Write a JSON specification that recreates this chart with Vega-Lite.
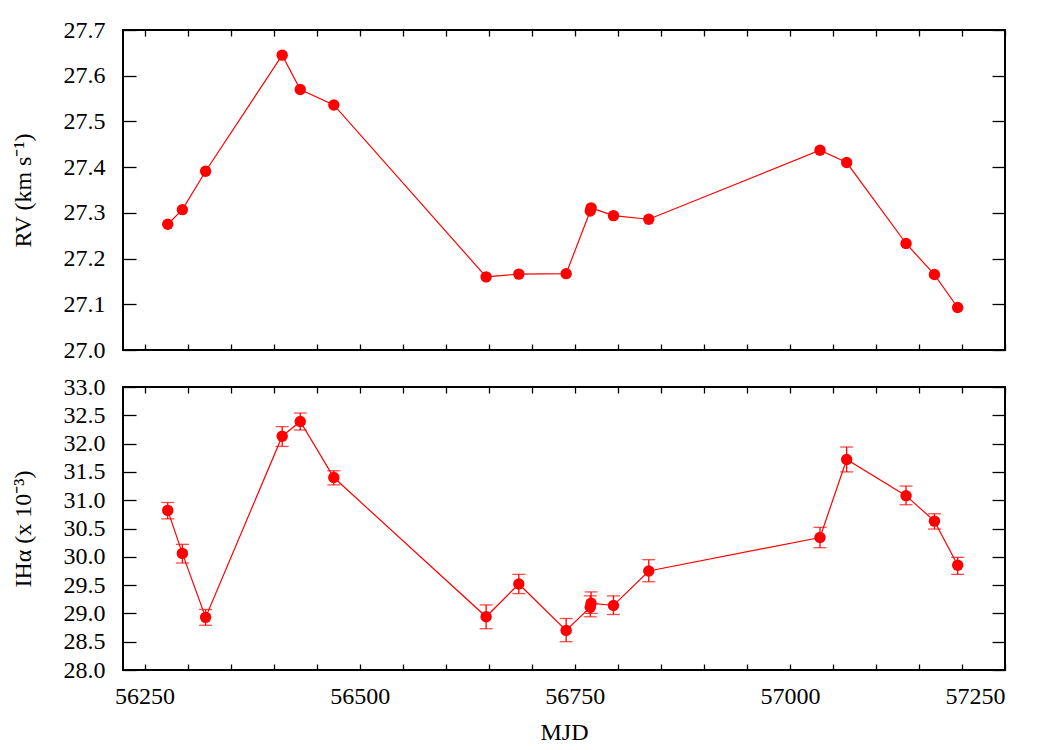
{
  "$schema": "https://vega.github.io/schema/vega-lite/v6.json",
  "padding": {"left": 10, "top": 17, "right": 5, "bottom": 5},
  "background": "white",
  "datasets": {
    "obs": [
      {"mjd": 56277, "rv": 27.275, "iha": 30.82, "lo": 30.67, "hi": 30.96},
      {"mjd": 56294, "rv": 27.307, "iha": 30.06, "lo": 29.89, "hi": 30.22},
      {"mjd": 56321, "rv": 27.391, "iha": 28.93, "lo": 28.79, "hi": 29.07},
      {"mjd": 56410, "rv": 27.645, "iha": 32.13, "lo": 31.95, "hi": 32.30},
      {"mjd": 56431, "rv": 27.570, "iha": 32.39, "lo": 32.24, "hi": 32.54},
      {"mjd": 56470, "rv": 27.536, "iha": 31.40, "lo": 31.27, "hi": 31.52},
      {"mjd": 56647, "rv": 27.160, "iha": 28.94, "lo": 28.73, "hi": 29.15},
      {"mjd": 56685, "rv": 27.166, "iha": 29.52, "lo": 29.35, "hi": 29.69},
      {"mjd": 56740, "rv": 27.167, "iha": 28.70, "lo": 28.50, "hi": 28.91},
      {"mjd": 56768, "rv": 27.304, "iha": 29.11, "lo": 28.94, "hi": 29.31},
      {"mjd": 56769, "rv": 27.311, "iha": 29.18, "lo": 29.00, "hi": 29.38},
      {"mjd": 56795, "rv": 27.294, "iha": 29.14, "lo": 28.98, "hi": 29.31},
      {"mjd": 56836, "rv": 27.286, "iha": 29.75, "lo": 29.56, "hi": 29.95},
      {"mjd": 57035, "rv": 27.437, "iha": 30.34, "lo": 30.16, "hi": 30.52},
      {"mjd": 57066, "rv": 27.410, "iha": 31.72, "lo": 31.50, "hi": 31.94},
      {"mjd": 57135, "rv": 27.233, "iha": 31.08, "lo": 30.92, "hi": 31.25},
      {"mjd": 57168, "rv": 27.165, "iha": 30.63, "lo": 30.49, "hi": 30.76},
      {"mjd": 57195, "rv": 27.093, "iha": 29.85, "lo": 29.69, "hi": 29.99}
    ]
  },
  "config": {
    "view": {"stroke": "black", "strokeWidth": 2},
    "font": "Liberation Serif",
    "axis": {
      "labelFont": "Liberation Serif",
      "titleFont": "Liberation Serif",
      "labelFontSize": 24,
      "titleFontSize": 24,
      "titleFontWeight": "normal",
      "labelColor": "black",
      "titleColor": "black",
      "tickColor": "black",
      "tickWidth": 1.3,
      "domain": false,
      "grid": false
    }
  },
  "vconcat": [
    {
      "width": 882,
      "height": 320,
      "data": {"name": "obs"},
      "layer": [
        {
          "mark": {"type": "line", "color": "#ff0000", "strokeWidth": 1.2},
          "encoding": {
            "x": {"field": "mjd", "type": "quantitative",
              "scale": {"domain": [56225, 57250], "nice": false, "zero": false},
              "axis": {"orient": "bottom", "values": [56250,56300,56350,56400,56450,56500,56550,56600,56650,56700,56750,56800,56850,56900,56950,57000,57050,57100,57150,57200,57250],
                "labels": false, "title": null, "tickSize": -6,
                "encode": {"ticks": {"y2": {"condition": {"test": "datum.value % 250 === 0", "value": -13}, "value": -6}}}}},
            "y": {"field": "rv", "type": "quantitative",
              "scale": {"domain": [27.0, 27.7], "nice": false, "zero": false},
              "axis": {"orient": "left", "values": [27.0,27.1,27.2,27.3,27.4,27.5,27.6,27.7], "format": ".1f",
                "labelFont": "Liberation Serif", "labelFontSize": 24, "titleFont": "Liberation Serif", "titleFontSize": 24,
                "tickSize": -13, "labelPadding": 31, "title": "RV (km s⁻¹)", "titlePadding": 28}}
          }
        },
        {
          "mark": {"type": "point", "filled": true, "shape": "circle", "color": "#ff0000", "size": 130, "opacity": 1},
          "encoding": {
            "x": {"field": "mjd", "type": "quantitative",
              "axis": {"orient": "top", "values": [56250,56300,56350,56400,56450,56500,56550,56600,56650,56700,56750,56800,56850,56900,56950,57000,57050,57100,57150,57200,57250],
                "labels": false, "title": null, "tickSize": -6,
                "encode": {"ticks": {"y2": {"condition": {"test": "datum.value % 250 === 0", "value": 13}, "value": 6}}}}},
            "y": {"field": "rv", "type": "quantitative",
              "axis": {"orient": "right", "values": [27.0,27.1,27.2,27.3,27.4,27.5,27.6,27.7],
                "labels": false, "title": null, "tickSize": -13}}
          }
        }
      ],
      "resolve": {"axis": {"x": "independent", "y": "independent"}}
    },
    {
      "width": 882,
      "height": 283,
      "data": {"name": "obs"},
      "layer": [
        {
          "mark": {"type": "rule", "color": "#ff0000", "strokeWidth": 1.3},
          "encoding": {
            "x": {"field": "mjd", "type": "quantitative",
              "scale": {"domain": [56225, 57250], "nice": false, "zero": false},
              "axis": {"orient": "bottom", "values": [56250,56300,56350,56400,56450,56500,56550,56600,56650,56700,56750,56800,56850,56900,56950,57000,57050,57100,57150,57200,57250],
                "labelExpr": "datum.value % 250 === 0 ? datum.label : ''", "format": "d",
                "labelFont": "Liberation Serif", "labelFontSize": 24, "titleFont": "Liberation Serif", "titleFontSize": 24,
                "labelPadding": 20, "title": "MJD", "titlePadding": 12, "tickSize": -6,
                "encode": {"ticks": {"y2": {"condition": {"test": "datum.value % 250 === 0", "value": -13}, "value": -6}}}}},
            "y": {"field": "lo", "type": "quantitative",
              "scale": {"domain": [28.0, 33.0], "nice": false, "zero": false},
              "axis": {"orient": "left", "values": [28.0,28.5,29.0,29.5,30.0,30.5,31.0,31.5,32.0,32.5,33.0], "format": ".1f",
                "labelFont": "Liberation Serif", "labelFontSize": 24, "titleFont": "Liberation Serif", "titleFontSize": 24,
                "tickSize": -13, "labelPadding": 31, "title": "IHα (x 10⁻³)", "titlePadding": 28}},
            "y2": {"field": "hi"}
          }
        },
        {
          "mark": {"type": "tick", "orient": "horizontal", "color": "#ff0000", "size": 13, "thickness": 1.3},
          "encoding": {
            "x": {"field": "mjd", "type": "quantitative", "axis": null},
            "y": {"field": "lo", "type": "quantitative", "axis": null}
          }
        },
        {
          "mark": {"type": "tick", "orient": "horizontal", "color": "#ff0000", "size": 13, "thickness": 1.3},
          "encoding": {
            "x": {"field": "mjd", "type": "quantitative", "axis": null},
            "y": {"field": "hi", "type": "quantitative", "axis": null}
          }
        },
        {
          "mark": {"type": "line", "color": "#ff0000", "strokeWidth": 1.2},
          "encoding": {
            "x": {"field": "mjd", "type": "quantitative", "axis": null},
            "y": {"field": "iha", "type": "quantitative", "axis": null}
          }
        },
        {
          "mark": {"type": "point", "filled": true, "shape": "circle", "color": "#ff0000", "size": 130, "opacity": 1},
          "encoding": {
            "x": {"field": "mjd", "type": "quantitative",
              "axis": {"orient": "top", "values": [56250,56300,56350,56400,56450,56500,56550,56600,56650,56700,56750,56800,56850,56900,56950,57000,57050,57100,57150,57200,57250],
                "labels": false, "title": null, "tickSize": -6,
                "encode": {"ticks": {"y2": {"condition": {"test": "datum.value % 250 === 0", "value": 13}, "value": 6}}}}},
            "y": {"field": "iha", "type": "quantitative",
              "axis": {"orient": "right", "values": [28.0,28.5,29.0,29.5,30.0,30.5,31.0,31.5,32.0,32.5,33.0],
                "labels": false, "title": null, "tickSize": -13}}
          }
        }
      ],
      "resolve": {"axis": {"x": "independent", "y": "independent"}}
    }
  ],
  "spacing": 37,
  "bounds": "flush"
}
